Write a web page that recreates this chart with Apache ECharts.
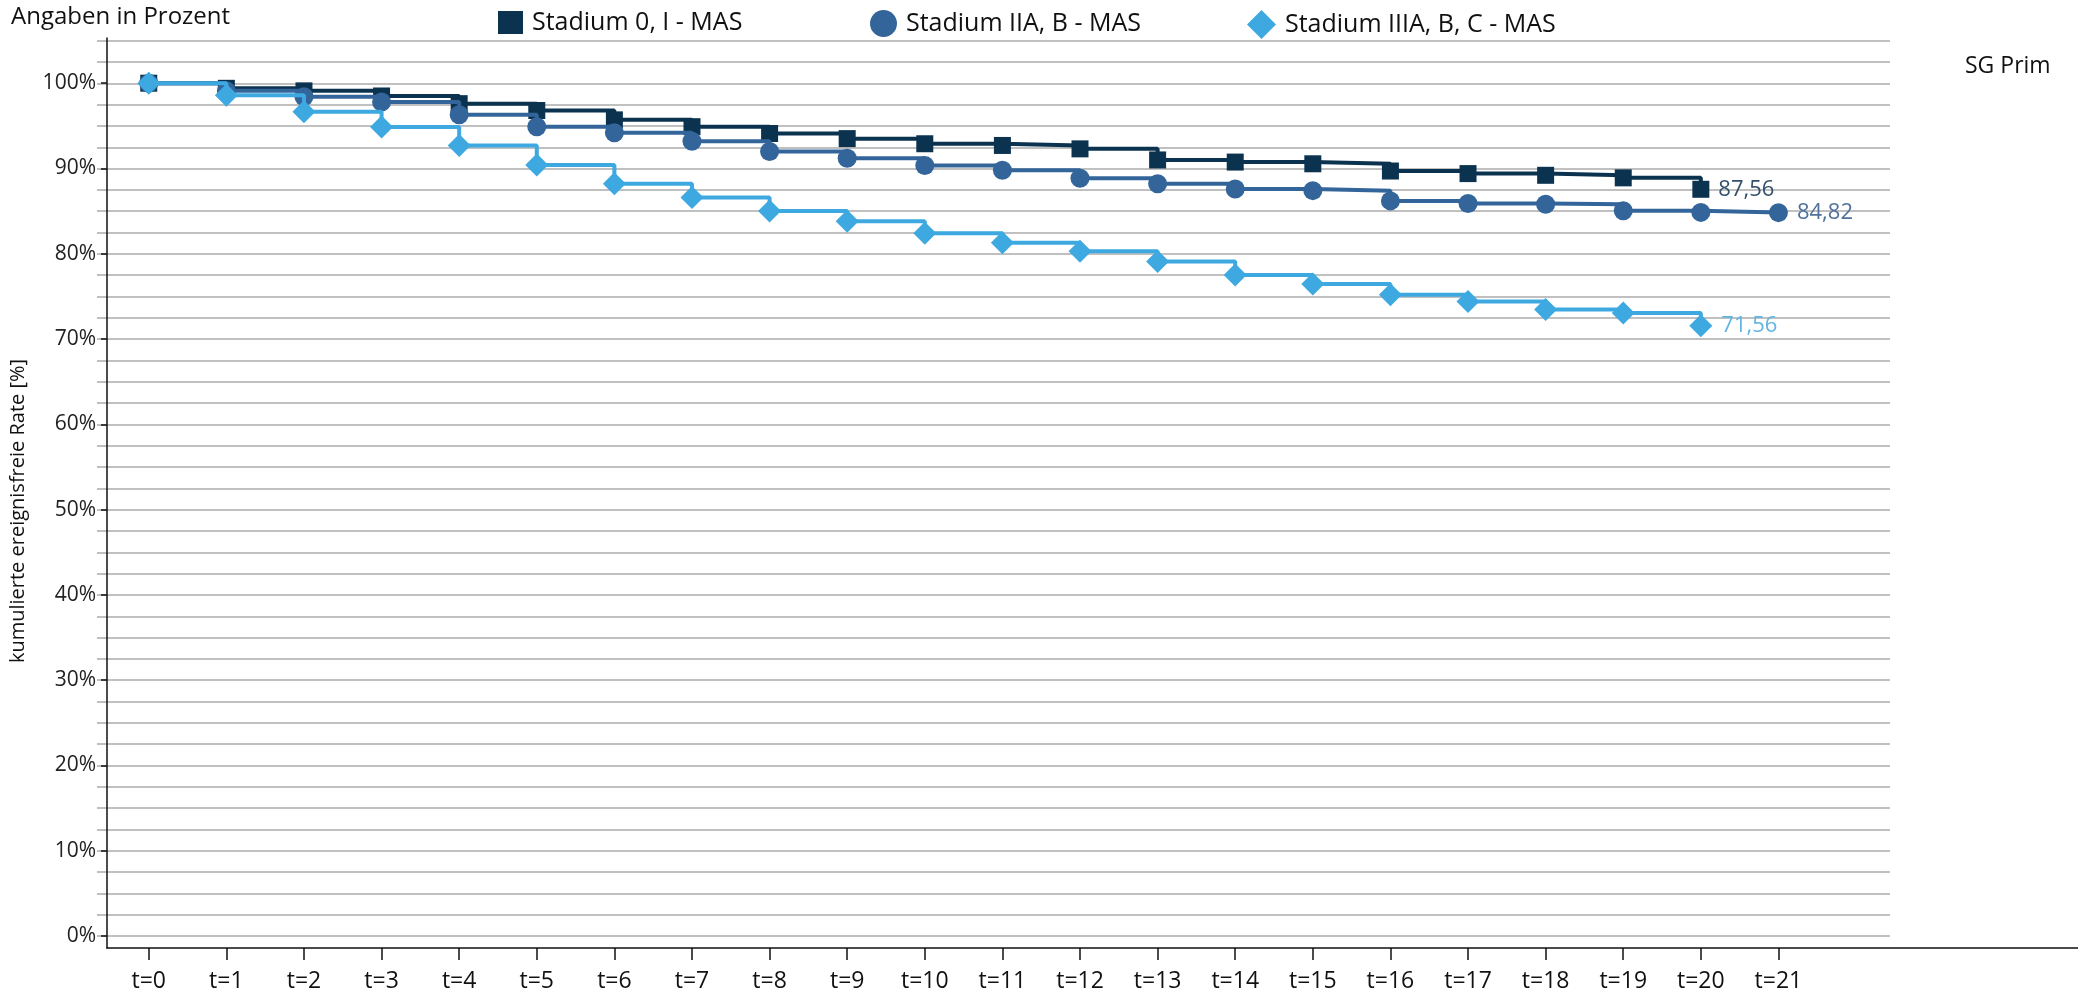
<!DOCTYPE html>
<html>
<head>
<meta charset="utf-8">
<script src="https://cdn.jsdelivr.net/npm/echarts@6/dist/echarts.min.js"></script>
<style>
html,body{margin:0;padding:0;background:#fff;}
#chart{width:2078px;height:995px;}
</style>
</head>
<body>
<div id="chart"></div>
<script>
// ---- data ----
const timePoints = [0,1,2,3,4,5,6,7,8,9,10,11,12,13,14,15,16,17,18,19,20,21];
const tickLabels = ['t=0','t=1','t=2','t=3','t=4','t=5','t=6','t=7','t=8','t=9','t=10','t=11','t=12','t=13','t=14','t=15','t=16','t=17','t=18','t=19','t=20','t=21'];
const yTickValues = [0,10,20,30,40,50,60,70,80,90,100];
const seriesNames = ['Stadium 0, I - MAS','Stadium IIA, B - MAS','Stadium IIIA, B, C - MAS'];
const stadium0I = [100, 99.4, 99.1, 98.5, 97.6, 96.8, 95.7, 94.9, 94.1, 93.5, 92.9, 92.7, 92.3, 91.0, 90.75, 90.55, 89.7, 89.4, 89.2, 88.9, 87.56];
const stadiumIIAB = [100, 99.1, 98.4, 97.8, 96.3, 94.9, 94.2, 93.2, 92.0, 91.2, 90.35, 89.8, 88.85, 88.2, 87.6, 87.4, 86.2, 85.9, 85.8, 85.05, 84.85, 84.82];
const stadiumIIIABC = [100, 98.6, 96.65, 94.85, 92.7, 90.4, 88.2, 86.6, 85.0, 83.8, 82.4, 81.3, 80.3, 79.1, 77.5, 76.45, 75.2, 74.4, 73.45, 73.05, 71.56];

const FONT = 'Open Sans';
const colors = ['#0b3350', '#33659a', '#3ea9e0'];
const labelColors = ['#34506c', '#50729a', '#62b4e2'];
const symbols = ['rect', 'circle', 'diamond'];
const symbolSizes = [17, 19, 23];
const allValues = [stadium0I, stadiumIIAB, stadiumIIIABC];

function buildData(values, idx) {
  return values.map((v, i) => {
    const item = { value: [timePoints[i], v] };
    if (i === values.length - 1) {
      item.label = {
        show: true, position: 'right', distance: 9,
        formatter: p => p.value[1].toFixed(2).replace('.', ','),
        color: labelColors[idx], fontSize: 22, fontFamily: FONT
      };
    }
    return item;
  });
}

const chart = echarts.init(document.getElementById('chart'), null, {renderer: 'canvas'});

const legends = seriesNames.map((name, i) => ({
  data: [{ name: name, icon: symbols[i] }],
  left: [493, 865, 1242][i],
  top: 5,
  itemWidth: [25, 27, 29][i],
  itemHeight: [23, 27, 29][i],
  textStyle: { fontSize: 25, fontFamily: FONT, color: '#111', padding: [0, 0, 0, 4] },
  selectedMode: false
}));

const option = {
  animation: false,
  backgroundColor: '#ffffff',
  title: [
    { text: 'Angaben in Prozent', left: 11, top: 5, padding: 0,
      textStyle: { fontSize: 24, fontWeight: 'normal', fontFamily: FONT, color: '#111' } },
    { text: 'SG Prim', left: 1965, top: 55, padding: 0,
      textStyle: { fontSize: 23, fontWeight: 'normal', fontFamily: FONT, color: '#111' } }
  ],
  legend: legends,
  grid: [
    { left: 97, right: 0, top: 38, bottom: 47, containLabel: false },
    { left: 97, right: 188, top: 40.7, bottom: 59, containLabel: false }
  ],
  xAxis: [
    {
      type: 'value', gridIndex: 0, min: -0.538, max: 24.86,
      axisLine: { show: true, onZero: false, lineStyle: { color: '#111', width: 1.5 } },
      axisTick: { show: true, length: 12, customValues: timePoints, lineStyle: { color: '#111', width: 1.5 } },
      axisLabel: { show: true, customValues: timePoints, formatter: v => tickLabels[timePoints.indexOf(v)],
        fontSize: 23, fontFamily: FONT, color: '#111', margin: 22 },
      splitLine: { show: false }
    },
    { type: 'value', gridIndex: 1, min: 0, max: 1, show: false }
  ],
  yAxis: [
    {
      type: 'value', gridIndex: 0, min: -1.41, max: 105.3,
      name: 'kumulierte ereignisfreie Rate [%]', nameLocation: 'middle', nameGap: 79,
      nameTextStyle: { fontSize: 20, fontFamily: FONT, color: '#111', padding: [0, 36, 0, 0] },
      axisLine: { show: true, onZero: false, lineStyle: { color: '#111', width: 1.5 } },
      axisTick: { show: true, length: 6, customValues: yTickValues, lineStyle: { color: '#111', width: 1.5 } },
      axisLabel: { show: true, customValues: yTickValues, formatter: v => v + '%',
        fontSize: 21, fontFamily: FONT, color: '#222', margin: 11 },
      splitLine: { show: false }
    },
    {
      type: 'value', gridIndex: 1, min: 0, max: 105, interval: 2.5,
      axisLine: { show: false }, axisTick: { show: false }, axisLabel: { show: false },
      splitLine: { show: true, lineStyle: { color: '#ababab', width: 1.6 } }
    }
  ],
  series: allValues.map((vals, i) => ({
    name: seriesNames[i],
    type: 'line',
    xAxisIndex: 0, yAxisIndex: 0,
    step: 'end',
    symbol: symbols[i],
    symbolSize: symbolSizes[i],
    showAllSymbol: true,
    itemStyle: { color: colors[i] },
    lineStyle: { color: colors[i], width: 4 },
    data: buildData(vals, i),
    z: 2 + i
  }))
};
chart.setOption(option);
</script>
</body>
</html>
